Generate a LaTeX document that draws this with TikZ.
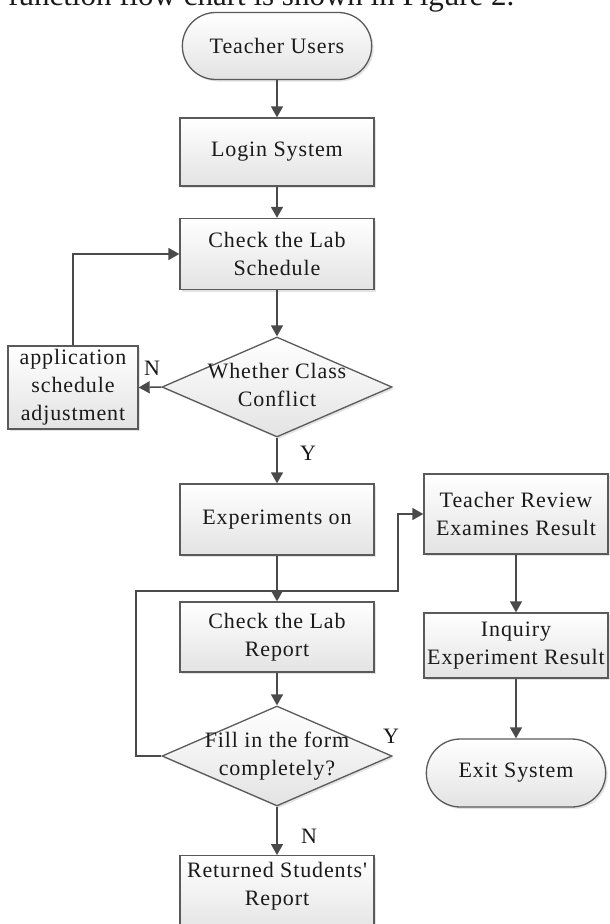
\documentclass[tikz,border=0pt]{standalone}
\usepackage{fontspec}
\setmainfont{Liberation Serif}
\newfontfamily\chartface[LetterSpace=4]{Liberation Serif}
\usetikzlibrary{shapes.geometric,shapes.misc,shadows,arrows.meta}

\definecolor{edge}{HTML}{5A5A5A}
\definecolor{wire}{HTML}{4A4A4A}
\definecolor{ink}{HTML}{1A1A1A}

\tikzset{
  chartfont/.style={font=\chartface\fontsize{22}{28}\selectfont, text=ink},
  panel/.style={top color=white, bottom color=black!11, draw=edge, line width=1.3pt,
    drop shadow={shadow xshift=2pt, shadow yshift=-2pt, opacity=0.22}},
  boxbase/.style={rectangle, panel, chartfont, minimum width=194pt, inner sep=2pt},
  stepbox/.style={boxbase, align=center},
  sidebox/.style={stepbox, minimum width=184pt},
  terminal/.style={rounded rectangle, panel, chartfont, minimum height=67pt},
  decision/.style={diamond, panel, chartfont, minimum width=230pt, minimum height=100pt, inner sep=0pt},
  flow/.style={draw=wire, line width=1.5pt, -{Triangle[length=11pt,width=12pt]}},
  tag/.style={chartfont, inner sep=0pt},
}

\begin{document}
\begin{tikzpicture}[x=1pt, y=-1pt]
  \useasboundingbox (0,0) rectangle (610,924);
  \clip (0,0) rectangle (610,924);

  % running text of the page above the chart
  \node[anchor=base west, font=\fontsize{31}{36}\selectfont, text=ink, inner sep=0pt]
    (caption) at (8,5) {function flow chart is shown in Figure 2.};

  % main column
  \node[terminal, minimum width=196pt] (tu) at (277,46) {Teacher Users};
  \node[stepbox, minimum height=68pt] (login) at (277,152) {Login System};
  \node[stepbox, minimum height=71pt] (sched) at (277,254) {Check the Lab\\Schedule};
  \node[decision] (conf) at (277,387)
    {\makebox[0pt]{\begin{tabular}{@{}c@{}}Whether Class\\Conflict\end{tabular}}};
  \node[stepbox, minimum width=130pt, minimum height=83pt] (app) at (73,387.5)
    {application\\schedule\\adjustment};
  \node[stepbox, minimum height=71pt] (exp) at (277,519.5) {Experiments on};
  \node[stepbox, minimum height=70pt] (rep) at (277,637) {Check the Lab\\Report};
  \node[decision] (fill) at (277,756)
    {\makebox[0pt]{\begin{tabular}{@{}c@{}}Fill in the form\\completely?\end{tabular}}};
  \node[boxbase, anchor=north, minimum height=78pt] (ret) at (277,855)
    {\begin{tabular}{@{}c@{}}Returned Students'\\Report\end{tabular}\rule[-40pt]{0pt}{0pt}};

  % right column
  \node[sidebox, minimum height=80pt] (review) at (516,514) {Teacher Review\\Examines Result};
  \node[sidebox, minimum height=65pt] (inq) at (516,645.5) {Inquiry\\Experiment Result};
  \node[terminal, minimum width=186pt, minimum height=68pt] (exit) at (516,773) {Exit System};

  % branch labels
  \node[tag] (nconf) at (152,368) {N};
  \node[tag] (yconf) at (308,453) {Y};
  \node[tag] (yfill) at (391,736) {Y};
  \node[tag] (nfill) at (309,836) {N};

  % connectors
  \draw[flow] (tu.south) -- (login.north);
  \draw[flow] (login.south) -- (sched.north);
  \draw[flow] (sched.south) -- (conf.north);
  \draw[flow] (conf.west) -- (app.east);
  \draw[flow] (app.north) |- (sched.west);
  \draw[flow] (conf.south) -- (exp.north);
  \draw[flow] (exp.south) -- (rep.north);
  \draw[flow] (rep.south) -- (fill.north);
  \draw[flow] (fill.south) -- (ret.north);
  \coordinate (loopl) at (136,591);
  \coordinate (loopr) at (398,591);
  \draw[flow] (fill.west) -| (loopl) -- (loopr) |- (review.west);
  \draw[flow] (review.south) -- (inq.north);
  \draw[flow] (inq.south) -- (exit.north);
\end{tikzpicture}
\end{document}
